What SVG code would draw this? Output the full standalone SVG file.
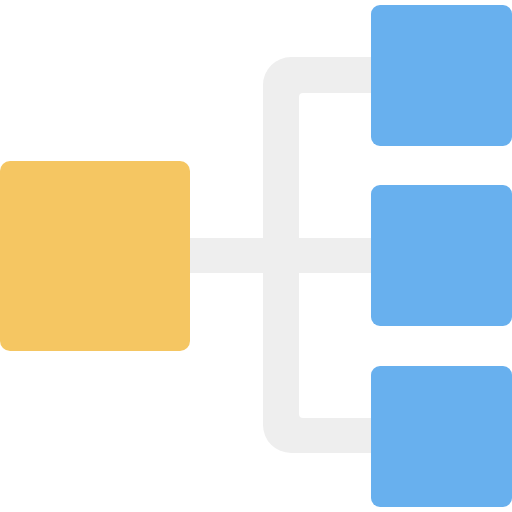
<svg xmlns="http://www.w3.org/2000/svg" width="512" height="512" viewBox="0 0 512 512">
<style>
.conn{fill:#EEEEEE}
.leaf{fill:#68B0EE}
.root{fill:#F5C662}
</style>
<rect width="512" height="512" fill="#FFFFFF"/>
<g id="connectors">
<path class="conn" d="M371 57 H291 A28 28 0 0 0 263 85 V425 A28 28 0 0 0 291 453 H371 V418 H303 A4 4 0 0 1 299 414 V97 A4 4 0 0 1 303 93 H371 Z"/>
<rect class="conn" x="189" y="238" width="183" height="35"/>
</g>
<g id="root"><rect class="root" x="0" y="161" width="190" height="190" rx="10"/></g>
<g id="leaf1"><rect class="leaf" x="371" y="5" width="141" height="141" rx="9"/></g>
<g id="leaf2"><rect class="leaf" x="371" y="185" width="141" height="141" rx="9"/></g>
<g id="leaf3"><rect class="leaf" x="371" y="366" width="141" height="141" rx="9"/></g>
</svg>
